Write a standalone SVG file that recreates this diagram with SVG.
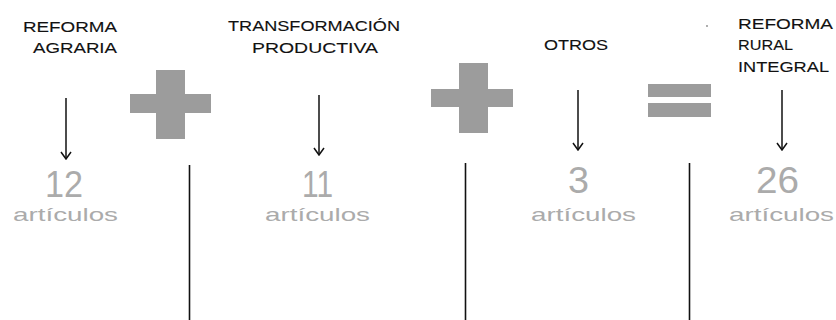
<svg xmlns="http://www.w3.org/2000/svg" width="836" height="320" viewBox="0 0 836 320">
<style>
.t{font-family:"Liberation Sans",Arial,sans-serif;font-size:15px;fill:#111;stroke:#111;stroke-width:0.12}
.n{font-family:"Liberation Sans",Arial,sans-serif;font-size:36px;fill:#ababab}
.a{font-family:"Liberation Sans",Arial,sans-serif;font-size:19px;fill:#ababab}
.op{fill:#9c9c9c}
.arr{stroke:#111;stroke-width:1.5;fill:none;marker-end:url(#h)}
.div{stroke:#111;stroke-width:1.6}
</style>
<defs>
<marker id="h" viewBox="0 0 10 12" refX="9" refY="6" markerWidth="10" markerHeight="12" markerUnits="userSpaceOnUse" orient="auto">
<path d="M2,1 L9,6 L2,11" fill="none" stroke="#111" stroke-width="1.5"/>
</marker>
</defs>
<rect width="836" height="320" fill="#fff"/>
<g id="reforma-agraria">
<text class="t" x="117" y="32" text-anchor="end" textLength="94" lengthAdjust="spacingAndGlyphs">REFORMA</text>
<text class="t" x="117" y="53" text-anchor="end" textLength="84" lengthAdjust="spacingAndGlyphs">AGRARIA</text>
<text class="n" x="64" y="197" text-anchor="middle" textLength="38" lengthAdjust="spacingAndGlyphs">12</text>
<text class="a" x="65.5" y="221" text-anchor="middle" textLength="105" lengthAdjust="spacingAndGlyphs">artículos</text>
</g>
<g id="plus-1" class="op">
<rect x="156" y="70" width="29" height="69"/>
<rect x="130" y="94" width="81" height="19"/>
</g>
<g id="transformacion-productiva">
<text class="t" x="314" y="31" text-anchor="middle" textLength="172" lengthAdjust="spacingAndGlyphs">TRANSFORMACIÓN</text>
<text class="t" x="315" y="53" text-anchor="middle" textLength="126" lengthAdjust="spacingAndGlyphs">PRODUCTIVA</text>
<text class="n" x="317.5" y="197" text-anchor="middle" textLength="31" lengthAdjust="spacingAndGlyphs">11</text>
<text class="a" x="317.5" y="221" text-anchor="middle" textLength="105" lengthAdjust="spacingAndGlyphs">artículos</text>
</g>
<g id="plus-2" class="op">
<rect x="459" y="63" width="29" height="70"/>
<rect x="431" y="89" width="82" height="18"/>
</g>
<g id="otros">
<text class="t" x="576" y="50" text-anchor="middle" textLength="64" lengthAdjust="spacingAndGlyphs">OTROS</text>
<text class="n" x="578.5" y="193" text-anchor="middle" textLength="21" lengthAdjust="spacingAndGlyphs">3</text>
<text class="a" x="583.5" y="221" text-anchor="middle" textLength="105" lengthAdjust="spacingAndGlyphs">artículos</text>
</g>
<g id="equals" class="op">
<rect x="648" y="84" width="63" height="13"/>
<rect x="648" y="103" width="63" height="14"/>
</g>
<circle cx="707" cy="26" r="0.9" fill="#888"/>
<g id="reforma-rural-integral">
<text class="t" x="738" y="28.5" textLength="95" lengthAdjust="spacingAndGlyphs">REFORMA</text>
<text class="t" x="738" y="50" textLength="55" lengthAdjust="spacingAndGlyphs">RURAL</text>
<text class="t" x="738" y="72" textLength="91" lengthAdjust="spacingAndGlyphs">INTEGRAL</text>
<text class="n" x="777.5" y="193" text-anchor="middle" textLength="43" lengthAdjust="spacingAndGlyphs">26</text>
<text class="a" x="781.5" y="221" text-anchor="middle" textLength="105" lengthAdjust="spacingAndGlyphs">artículos</text>
</g>
<g id="dividers">
<line class="div" x1="189.5" y1="165" x2="189.5" y2="320"/>
<line class="div" x1="465.5" y1="163" x2="465.5" y2="320"/>
<line class="div" x1="689.5" y1="163" x2="689.5" y2="320"/>
</g>
<g id="connectors">
<path class="arr" d="M66,98 V159"/>
<path class="arr" d="M319,95 V155"/>
<path class="arr" d="M578,90 V150"/>
<path class="arr" d="M782,90 V150"/>
</g>
</svg>
